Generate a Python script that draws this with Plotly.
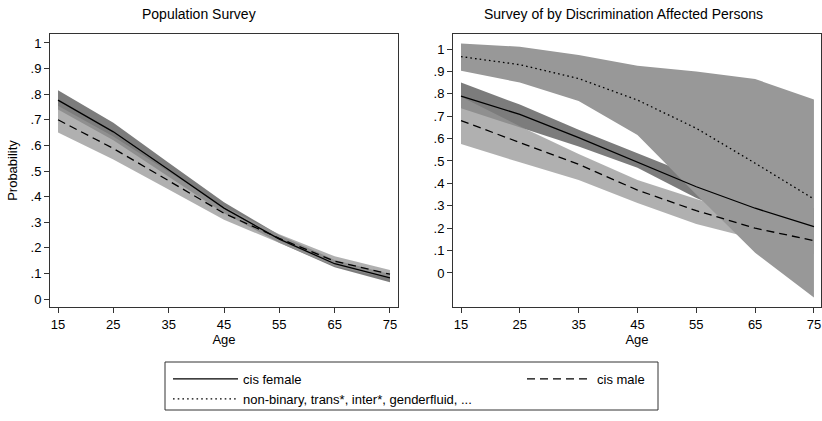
import plotly.graph_objects as go

# ---------------- data ----------------
age = [15, 25, 35, 45, 55, 65, 75]

# Population Survey
pop_female = [0.777, 0.653, 0.505, 0.355, 0.234, 0.138, 0.083]
pop_female_lo = [0.740, 0.620, 0.478, 0.335, 0.220, 0.124, 0.066]
pop_female_hi = [0.815, 0.688, 0.532, 0.378, 0.250, 0.153, 0.098]
pop_male = [0.700, 0.588, 0.462, 0.335, 0.237, 0.148, 0.097]
pop_male_lo = [0.650, 0.545, 0.428, 0.310, 0.220, 0.128, 0.080]
pop_male_hi = [0.755, 0.635, 0.497, 0.360, 0.253, 0.167, 0.113]

# Survey of by Discrimination Affected Persons
dis_female = [0.790, 0.708, 0.604, 0.494, 0.385, 0.289, 0.207]
dis_female_lo = [0.735, 0.650, 0.565, 0.470, 0.335, 0.225, 0.120]
dis_female_hi = [0.850, 0.752, 0.640, 0.534, 0.430, 0.350, 0.290]
dis_male = [0.680, 0.583, 0.485, 0.370, 0.278, 0.200, 0.144]
dis_male_lo = [0.576, 0.494, 0.415, 0.312, 0.219, 0.152, 0.085]
dis_male_hi = [0.787, 0.655, 0.531, 0.415, 0.330, 0.255, 0.215]
dis_nb = [0.966, 0.930, 0.868, 0.772, 0.646, 0.490, 0.330]
dis_nb_lo = [0.903, 0.850, 0.768, 0.616, 0.350, 0.090, -0.110]
dis_nb_hi = [1.025, 1.010, 0.973, 0.925, 0.900, 0.866, 0.775]

ytick_vals = [0, 0.1, 0.2, 0.3, 0.4, 0.5, 0.6, 0.7, 0.8, 0.9, 1]
ytick_text = ["0", ".1", ".2", ".3", ".4", ".5", ".6", ".7", ".8", ".9", "1"]
xtick_vals = [15, 25, 35, 45, 55, 65, 75]

labels = {"f": "cis female", "m": "cis male",
          "nb": "non-binary, trans*, inter*, genderfluid, ..."}

# ---------------- styles ----------------
FONT = "Liberation Sans, Arial, Helvetica, sans-serif"
W, H = 822, 421
col_f = "rgba(80,80,80,0.75)"
col_m = "rgba(150,150,150,0.75)"
col_nb = "rgb(152,152,152)"
LW = 1.3
DASH = "8px,5px"
DOT = "1.6px,3.1px"

fig = go.Figure()


def band(lo, hi, color, xa, ya):
    fig.add_trace(go.Scatter(
        x=age + age[::-1], y=hi + lo[::-1], fill="toself", fillcolor=color,
        mode="lines", line=dict(width=0), hoverinfo="skip", showlegend=False,
        xaxis=xa, yaxis=ya))


def line(y, dash, name, xa, ya, show, legend="legend"):
    fig.add_trace(go.Scatter(
        x=age, y=y, mode="lines", name=name,
        line=dict(color="black", width=LW, dash=dash),
        showlegend=show, legend=legend, xaxis=xa, yaxis=ya))


# left panel
band(pop_female_lo, pop_female_hi, col_f, "x", "y")
band(pop_male_lo, pop_male_hi, col_m, "x", "y")
line(pop_female, "solid", labels["f"], "x", "y", True, "legend")
line(pop_male, DASH, labels["m"], "x", "y", True, "legend2")

# right panel
band(dis_female_lo, dis_female_hi, col_f, "x2", "y2")
band(dis_male_lo, dis_male_hi, col_m, "x2", "y2")
band(dis_nb_lo, dis_nb_hi, col_nb, "x2", "y2")
line(dis_female, "solid", labels["f"], "x2", "y2", False)
line(dis_male, DASH, labels["m"], "x2", "y2", False)
line(dis_nb, DOT, labels["nb"], "x2", "y2", True, "legend")

ydom = [1 - 307 / H, 1 - 34 / H]
axis_common = dict(showgrid=False, zeroline=False, showline=True, mirror=True,
                   linecolor="#333333", linewidth=1, ticks="outside", ticklen=5,
                   tickcolor="#333333", tickfont=dict(family=FONT, size=13, color="black"))

fig.update_layout(
    width=W, height=H, margin=dict(l=0, r=0, t=0, b=0),
    paper_bgcolor="white", plot_bgcolor="white",
    font=dict(family=FONT, size=13, color="black"),
    xaxis=dict(domain=[50 / W, 398 / W], range=[13.55, 76.45], tickvals=xtick_vals,
               title=dict(text="Age", standoff=0, font=dict(size=13)), anchor="y", **axis_common),
    yaxis=dict(domain=ydom, range=[-0.031, 1.035], tickvals=ytick_vals, ticktext=ytick_text,
               title=dict(text="Probability", standoff=10, font=dict(size=13)), anchor="x", **axis_common),
    xaxis2=dict(domain=[453 / W, 821 / W], range=[13.64, 76.2], tickvals=xtick_vals,
                title=dict(text="Age", standoff=0, font=dict(size=13)), anchor="y2", **axis_common),
    yaxis2=dict(domain=ydom, range=[-0.152, 1.067], tickvals=ytick_vals, ticktext=ytick_text,
                anchor="x2", **axis_common),
    legend=dict(x=168 / W, y=1 - 364 / H, xanchor="left", yanchor="top", orientation="v",
                itemwidth=65, bgcolor="rgba(0,0,0,0)", tracegroupgap=0,
                font=dict(family=FONT, size=13), itemclick=False),
    legend2=dict(x=522 / W, y=1 - 364 / H, xanchor="left", yanchor="top", orientation="v",
                 itemwidth=65, bgcolor="rgba(0,0,0,0)",
                 font=dict(family=FONT, size=13), itemclick=False),
    annotations=[
        dict(text="Population Survey", x=199 / W, y=1 - 14 / H, xref="paper", yref="paper",
             showarrow=False, font=dict(size=14), xanchor="center", yanchor="middle"),
        dict(text="Survey of by Discrimination Affected Persons", x=623 / W, y=1 - 14 / H,
             xref="paper", yref="paper", showarrow=False, font=dict(size=14),
             xanchor="center", yanchor="middle"),
    ],
    shapes=[dict(type="rect", xref="paper", yref="paper", x0=165 / W, x1=658 / W,
                 y0=1 - 410 / H, y1=1 - 362 / H, line=dict(color="#333333", width=1))],
)

fig.write_html("out.html")
